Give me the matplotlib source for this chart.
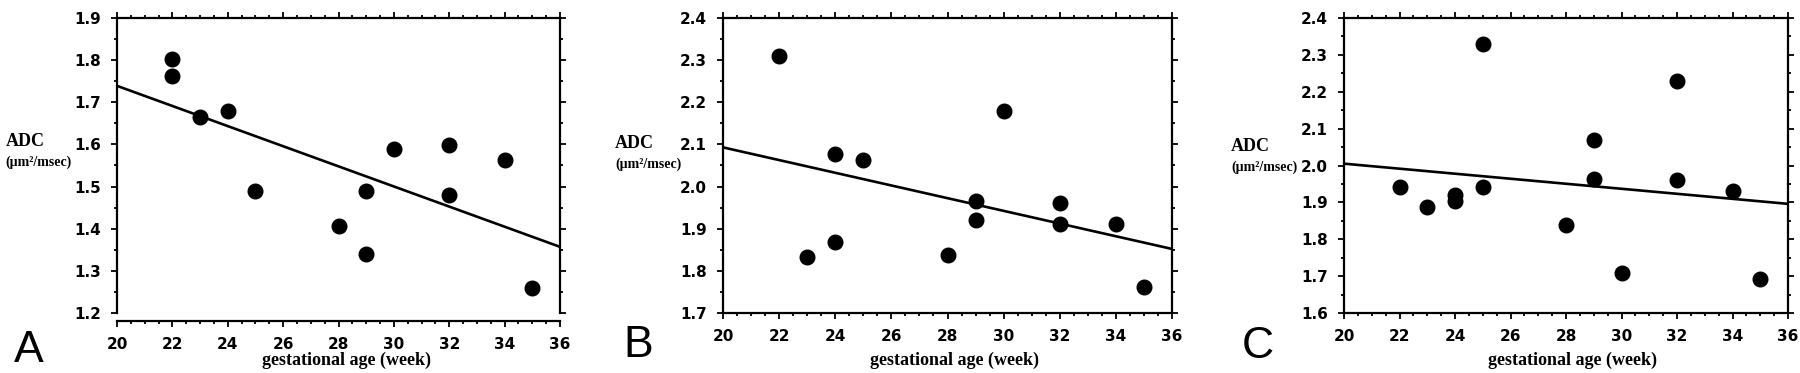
import matplotlib
matplotlib.use("Agg")
import matplotlib.pyplot as plt
from matplotlib.ticker import MultipleLocator, FormatStrFormatter

# ---------------- data ----------------
age_A = [22, 22, 23, 24, 25, 28, 29, 29, 30, 32, 32, 34, 35]
adc_A = [1.802, 1.763, 1.665, 1.680, 1.489, 1.406, 1.489, 1.339, 1.588, 1.599, 1.481, 1.563, 1.260]

age_B = [22, 23, 24, 24, 25, 28, 29, 29, 30, 32, 32, 34, 35]
adc_B = [2.309, 1.833, 2.077, 1.868, 2.063, 1.837, 1.966, 1.921, 2.179, 1.962, 1.911, 1.911, 1.762]

age_C = [22, 23, 24, 24, 25, 25, 28, 29, 29, 30, 32, 32, 34, 35]
adc_C = [1.942, 1.887, 1.919, 1.905, 2.330, 1.943, 1.838, 2.068, 1.964, 1.708, 2.228, 1.960, 1.930, 1.693]

fit_x = [20, 36]
fit_A = [1.739, 1.357]
fit_B = [2.093, 1.852]
fit_C = [2.005, 1.896]

ylim_A = (1.2, 1.9)
ylim_B = (1.7, 2.4)
ylim_C = (1.6, 2.4)
xlim = (20, 36)

panel_letters = ["A", "B", "C"]
ylabel_main = "ADC"
ylabel_unit = "(\u00b5m\u00b2/msec)"
xlabel = "gestational age (week)"

# ---------------- layout ----------------
W, H = 1800, 373
fig = plt.figure(figsize=(W / 100, H / 100), dpi=100)

def px_axes(left, right, top, bottom):
    return [left / W, 1 - bottom / H, (right - left) / W, (bottom - top) / H]

boxes = [px_axes(117, 560, 18, 313), px_axes(723, 1172, 18, 313), px_axes(1344, 1788, 18, 313)]
offsets = [6, 0, 0]
ylab_pos = [((6, 142), (5, 162)), ((615, 144), (615, 164)), ((1231, 146), (1231, 167))]
xlab_x = [346, 955, 1572]
letter_pos = [(29, 362), (638, 357), (1258, 358)]

datasets = [(age_A, adc_A, fit_A, ylim_A), (age_B, adc_B, fit_B, ylim_B), (age_C, adc_C, fit_C, ylim_C)]

tick_font = dict(family="DejaVu Sans", weight="bold", size=11)
serif = ["Liberation Serif", "DejaVu Serif"]

for i, (xs, ys, fy, yl) in enumerate(datasets):
    ax = fig.add_axes(boxes[i])
    ax.plot(xs, ys, "o", color="black", ms=10.5, zorder=3)
    ax.plot(fit_x, fy, "-", color="black", lw=1.9, zorder=2)
    ax.set_xlim(*xlim)
    ax.set_ylim(*yl)
    for s in ax.spines.values():
        s.set_linewidth(1.6)
    if offsets[i]:
        ax.spines["bottom"].set_position(("outward", offsets[i]))
    ax.xaxis.set_major_locator(MultipleLocator(2))
    ax.xaxis.set_minor_locator(MultipleLocator(0.5))
    ax.yaxis.set_major_locator(MultipleLocator(0.1))
    ax.yaxis.set_minor_locator(MultipleLocator(0.05))
    ax.yaxis.set_major_formatter(FormatStrFormatter("%.1f"))
    ax.xaxis.set_major_formatter(FormatStrFormatter("%d"))
    ax.tick_params(which="both", direction="out", top=True, right=True, width=1.3, color="black")
    ax.tick_params(which="major", length=4.5)
    ax.tick_params(which="minor", length=2.5)
    ax.tick_params(axis="x", which="major", pad=7)
    ax.tick_params(axis="y", which="major", pad=7)
    for lab in ax.get_xticklabels() + ax.get_yticklabels():
        lab.set_fontfamily(tick_font["family"])
        lab.set_fontweight(tick_font["weight"])
        lab.set_fontsize(tick_font["size"])

    (ax1, ay1), (ax2, ay2) = ylab_pos[i]
    fig.text(ax1 / W, 1 - ay1 / H, ylabel_main, family=serif, weight="bold",
             fontsize=13, ha="left", va="center")
    fig.text(ax2 / W, 1 - ay2 / H, ylabel_unit, family=serif, weight="bold",
             fontsize=10, ha="left", va="center")
    fig.text(xlab_x[i] / W, 1 - 360 / H, xlabel, family=serif, weight="bold",
             fontsize=13, ha="center", va="center")
    lx, ly = letter_pos[i]
    fig.text(lx / W, 1 - ly / H, panel_letters[i], family=["Liberation Sans", "DejaVu Sans"],
             fontsize=32, ha="center", va="baseline")

fig.savefig("out.png", dpi=100, facecolor="white")
